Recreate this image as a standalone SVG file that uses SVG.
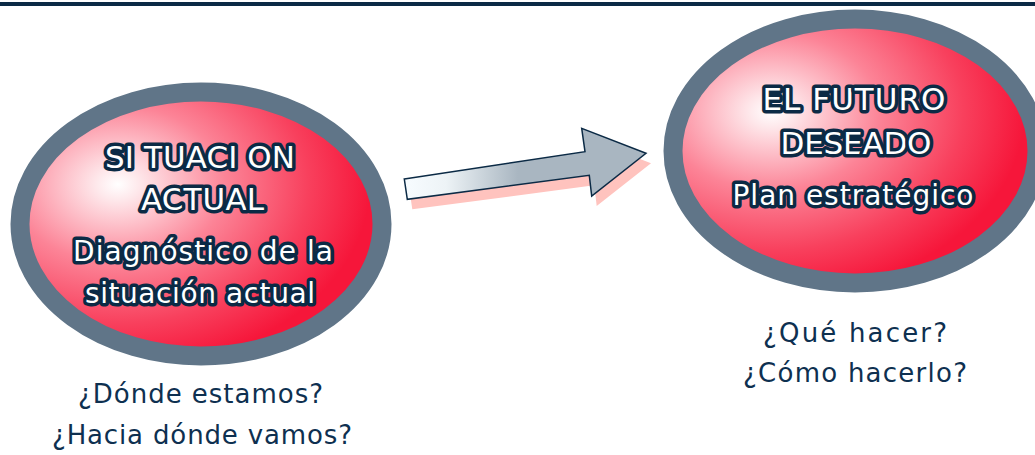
<svg xmlns="http://www.w3.org/2000/svg" width="1035" height="455" viewBox="0 0 1035 455">
  <defs>
    <radialGradient id="redGrad" cx="0.27" cy="0.35" fx="0.27" fy="0.35" r="0.85">
      <stop offset="0" stop-color="#ffffff"/>
      <stop offset="0.07" stop-color="#fee8eb"/>
      <stop offset="0.35" stop-color="#fc8497"/>
      <stop offset="0.62" stop-color="#f8405d"/>
      <stop offset="0.82" stop-color="#f6163a"/>
      <stop offset="1" stop-color="#f6163a"/>
    </radialGradient>
    <linearGradient id="arrowGrad" gradientUnits="userSpaceOnUse" x1="410" y1="0" x2="590" y2="0">
      <stop offset="0" stop-color="#f6fbfe"/>
      <stop offset="0.2" stop-color="#edf3f6"/>
      <stop offset="0.6" stop-color="#a9b6c1"/>
      <stop offset="1" stop-color="#a9b6c1"/>
    </linearGradient>
    <style>
      .ring { fill: url(#redGrad); stroke: #607588; stroke-width: 19; }
      .big { font-family: "DejaVu Sans", "Liberation Sans", sans-serif; fill: #ffffff; stroke: #0b2a45; stroke-width: 7; stroke-linejoin: round; paint-order: stroke; text-anchor: middle; }
      .cap { font-size: 31px; }
      .low { font-size: 28px; }
      .q { font-family: "DejaVu Sans", "Liberation Sans", sans-serif; font-size: 26px; fill: #0e3050; text-anchor: middle; }
    </style>
  </defs>

  <rect x="0" y="2" width="1035" height="4" fill="#0b2a45"/>

  <g id="node-situacion">
    <ellipse class="ring" cx="201" cy="224" rx="181" ry="132"/>
    <text class="big cap" x="200" y="168" textLength="190" lengthAdjust="spacing">SI TUACI ON</text>
    <text class="big cap" x="202.5" y="210" textLength="123" lengthAdjust="spacing">ACTUAL</text>
    <text class="big low" x="203" y="261" textLength="260" lengthAdjust="spacing">Diagnóstico de la</text>
    <text class="big low" x="200" y="303" textLength="230" lengthAdjust="spacing">situación actual</text>
    <text class="q" x="200.5" y="403" textLength="245" lengthAdjust="spacing">¿Dónde estamos?</text>
    <text class="q" x="202" y="444" textLength="300" lengthAdjust="spacing">¿Hacia dónde vamos?</text>
  </g>

  <g id="node-futuro">
    <ellipse class="ring" cx="855" cy="151" rx="182" ry="132"/>
    <text class="big cap" x="854" y="110" textLength="183" lengthAdjust="spacing">EL FUTURO</text>
    <text class="big cap" x="856" y="154" textLength="151" lengthAdjust="spacing">DESEADO</text>
    <text class="big low" x="853" y="205" textLength="241" lengthAdjust="spacing">Plan estratégico</text>
    <text class="q" x="855" y="342" textLength="184" lengthAdjust="spacing">¿Qué hacer?</text>
    <text class="q" x="855" y="382" textLength="224" lengthAdjust="spacing">¿Cómo hacerlo?</text>
  </g>

  <g id="connectors">
    <path d="M409.3,189 L590,161.7 L586.7,138.3 L651,163.3 L596.7,206 L594.3,185.3 L412.3,209.3 Z" fill="#ffc3be"/>
    <path d="M404.3,179 L585,151.7 L581.7,128.3 L646,153.3 L591.7,196 L589.3,175.3 L407.3,199.3 Z" fill="url(#arrowGrad)" stroke="#0b2a45" stroke-width="1.5" stroke-linejoin="miter"/>
  </g>
</svg>
